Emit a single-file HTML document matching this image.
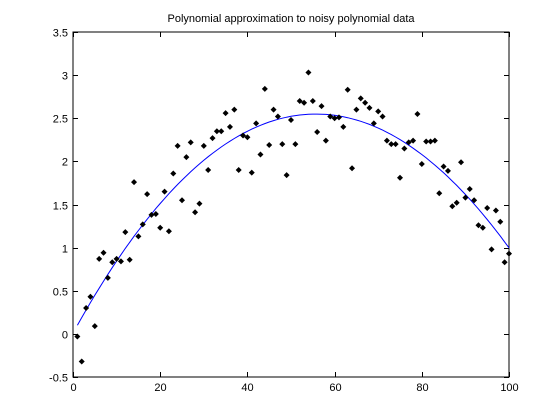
<!DOCTYPE html>
<html><head><meta charset="utf-8"><style>
body{margin:0;background:#fff}
svg{display:block;font-family:"Liberation Sans",sans-serif}
</style></head><body>
<svg id="chart" width="560" height="420">
<text x="291" y="22" font-size="11" text-anchor="middle">Polynomial approximation to noisy polynomial data</text>
</svg>
<script>
const yValues=[-0.03,-0.32,0.3,0.43,0.09,0.87,0.94,0.65,0.83,0.87,0.84,1.18,0.86,1.76,1.13,1.27,1.62,1.38,1.39,1.23,1.65,1.19,1.86,2.18,1.55,2.05,2.22,1.41,1.51,2.18,1.9,2.27,2.35,2.35,2.56,2.4,2.6,1.9,2.3,2.28,1.87,2.44,2.08,2.84,2.19,2.6,2.52,2.2,1.84,2.48,2.2,2.7,2.68,3.03,2.7,2.34,2.64,2.24,2.52,2.5,2.51,2.4,2.83,1.92,2.6,2.73,2.68,2.62,2.44,2.58,2.52,2.24,2.2,2.2,1.81,2.15,2.22,2.24,2.55,1.97,2.23,2.23,2.24,1.63,1.94,1.89,1.48,1.52,1.99,1.58,1.68,1.55,1.26,1.23,1.46,0.98,1.43,1.3,0.83,0.93];
const xValues=yValues.map((_,i)=>i+1);
const xTicks=[0,20,40,60,80,100];
const yTicks=[-0.5,0,0.5,1,1.5,2,2.5,3,3.5];
const L=73,R=509,T=32,B=377;
const sx=v=>L+(v-0)/(100-0)*(R-L);
const sy=v=>B-(v+0.5)/4*(B-T);
const svg=document.getElementById('chart');const NS='http://www.w3.org/2000/svg';
function mk(t,a){const e=document.createElementNS(NS,t);for(const k in a)e.setAttribute(k,a[k]);svg.appendChild(e);return e;}
const box=mk('rect',{x:L,y:T,width:R-L,height:B-T,fill:'none',stroke:'#000','stroke-width':1});


xTicks.forEach(v=>{const x=Math.round(sx(v))+0.5;
 const a=mk('path',{d:`M${x},${B}v-5M${x},${T}v5`,stroke:'#000'});
 
 
 const t=mk('text',{x:x,y:B+14,'font-size':11,'text-anchor':'middle'});t.textContent=v;
 
 });
yTicks.forEach(v=>{const y=Math.round(sy(v))+0.5;
 const a=mk('path',{d:`M${L},${y}h5M${R},${y}h-5`,stroke:'#000'});
 
 
 const t=mk('text',{x:L-5,y:y+4,'font-size':11,'text-anchor':'end'});t.textContent=v;
 
 });
// cubic least-squares fit
const deg=3,n=deg+1;const A=[...Array(n)].map(()=>Array(n+1).fill(0));
xValues.forEach((x,i)=>{const u=x/100;for(let r=0;r<n;r++){for(let c=0;c<n;c++)A[r][c]+=Math.pow(u,r+c);A[r][n]+=Math.pow(u,r)*yValues[i];}});
for(let i=0;i<n;i++){for(let j=i+1;j<n;j++){const f=A[j][i]/A[i][i];for(let k=i;k<=n;k++)A[j][k]-=f*A[i][k];}}
const co=Array(n).fill(0);for(let i=n-1;i>=0;i--){let s=A[i][n];for(let k=i+1;k<n;k++)s-=A[i][k]*co[k];co[i]=s/A[i][i];}
const fit=x=>co.reduce((s,c,k)=>s+c*Math.pow(x/100,k),0);
const pts=xValues.map(x=>sx(x).toFixed(1)+','+sy(fit(x)).toFixed(1)).join(' ');
const line=mk('polyline',{points:pts,fill:'none',stroke:'#0000ff','stroke-width':1});


xValues.forEach((x,i)=>{const cx=sx(x),cy=sy(yValues[i]);
 const p=mk('path',{d:`M${cx-3},${cy}L${cx},${cy-3}L${cx+3},${cy}L${cx},${cy+3}Z`,fill:'#000'});
 
 });
</script>
</body></html>
